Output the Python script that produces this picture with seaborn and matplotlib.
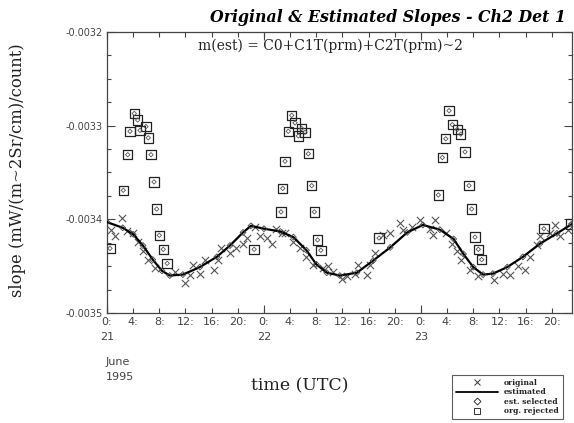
import matplotlib
matplotlib.use("Agg")
import matplotlib.pyplot as plt
import seaborn as sns
import pandas as pd
from matplotlib.lines import Line2D
from matplotlib.ticker import FixedLocator

# ---------------- data (hours since 21 June 1995 00:00 UTC) ----------------
est_hours = [0, 2.4, 4, 5.5, 7, 8.4, 9.6, 11.6, 14.2, 16.8, 18.8, 20.8, 22, 24,
             26.5, 28.5, 30.5, 32, 33.6, 35.6, 38.2, 40.7, 43.3, 45.9, 48.3,
             50.9, 53, 54.5, 56, 57.5, 59, 61.2, 63.6, 66.2, 68.8, 71.1]
est_slope = [-0.003403, -0.003409, -0.003416, -0.003428, -0.003443, -0.003455,
             -0.003460, -0.003459, -0.003451, -0.003440, -0.003428, -0.003414,
             -0.003407, -0.003410, -0.003413, -0.003419, -0.003433, -0.003448,
             -0.003457, -0.003460, -0.003457, -0.003444, -0.003430, -0.003414,
             -0.003406, -0.003411, -0.003421, -0.003437, -0.003451, -0.003459,
             -0.003458, -0.003451, -0.003440, -0.003426, -0.003415, -0.003405]

orig_hours = [0.6, 1.22, 2.24, 3.0, 4.0, 4.8, 5.55, 6.3, 7.34, 10.4, 11.9, 12.7,
              13.2, 14.2, 15.0, 16.3, 17.0, 17.5, 18.8, 19.8, 20.8, 21.4, 22.6,
              23.4, 24.4, 25.2, 25.9, 26.7, 27.2, 28.5, 29.5, 30.5, 31.5, 33.1,
              33.8, 34.6, 35.9, 36.7, 37.9, 38.4, 39.7, 40.2, 41.0, 42.2, 43.3,
              44.8, 45.3, 46.6, 47.9, 49.4, 49.9, 50.2, 51.9, 52.7, 53.5, 54.2,
              55.5, 56.8, 59.1, 60.6, 61.6, 62.9, 63.9, 64.7, 65.7, 66.2, 67.7,
              68.5, 69.3, 70.5]
orig_slope = [-0.003411, -0.003418, -0.003399, -0.003412, -0.003415, -0.003424,
              -0.003434, -0.003443, -0.003452, -0.003456, -0.003468, -0.003459,
              -0.003449, -0.003458, -0.003443, -0.003454, -0.003443, -0.003431,
              -0.003436, -0.003431, -0.003426, -0.003420, -0.003408, -0.003418,
              -0.003420, -0.003426, -0.003410, -0.003415, -0.003415, -0.003424,
              -0.003431, -0.003440, -0.003449, -0.003452, -0.003450, -0.003456,
              -0.003464, -0.003461, -0.003458, -0.003449, -0.003459, -0.003449,
              -0.003436, -0.003417, -0.003415, -0.003404, -0.003411, -0.003408,
              -0.003401, -0.003410, -0.003417, -0.003401, -0.003415, -0.003426,
              -0.003434, -0.003443, -0.003454, -0.003461, -0.003465, -0.003458,
              -0.003459, -0.003450, -0.003454, -0.003440, -0.003427, -0.003418,
              -0.003415, -0.003406, -0.003418, -0.003411]

rej_hours = [0.46, 2.49, 3.17, 3.52, 4.17, 4.69, 5.05, 5.96, 6.31, 6.73, 7.19,
             7.60, 8.0, 8.6, 9.2, 22.5,
             26.6, 26.87, 27.22, 27.72, 28.24, 28.75, 29.25, 29.77, 30.28, 30.78,
             31.3, 31.7, 32.2, 32.7, 41.6,
             50.66, 51.27, 51.8, 52.3, 52.8, 53.56, 54.08, 54.74, 55.35, 55.76,
             56.27, 56.78, 57.29, 66.8, 70.9]
rej_slope = [-0.003431, -0.003369, -0.003331, -0.003306, -0.003287, -0.003294,
             -0.003305, -0.003301, -0.003313, -0.003331, -0.003360, -0.003389,
             -0.003417, -0.003432, -0.003447, -0.003432,
             -0.003392, -0.003367, -0.003338, -0.003306, -0.003289, -0.003297,
             -0.003311, -0.003303, -0.003307, -0.003330, -0.003364, -0.003392,
             -0.003422, -0.003433, -0.003420,
             -0.003374, -0.003334, -0.003314, -0.003284, -0.003299, -0.003304,
             -0.003309, -0.003328, -0.003364, -0.003389, -0.003419, -0.003432,
             -0.003443, -0.003410, -0.003405]

xtick_hours = list(range(0, 72, 4))
xtick_labels = ["0:\n21", "4:", "8:", "12:", "16:", "20:",
                "0:\n22", "4:", "8:", "12:", "16:", "20:",
                "0:\n23", "4:", "8:", "12:", "16:", "20:"]
day_ticks = [0, 24, 48]
ytick_values = [-0.0035, -0.0034, -0.0033, -0.0032]
ytick_labels = ["-0.0035", "-0.0034", "-0.0033", "-0.0032"]
ytick_minor = [-0.0035 + i * 0.000025 for i in range(13)]

est_df = pd.DataFrame({"hour": est_hours, "slope": est_slope})
orig_df = pd.DataFrame({"hour": orig_hours, "slope": orig_slope})
rej_df = pd.DataFrame({"hour": rej_hours, "slope": rej_slope})

# ---------------- figure ----------------
sns.set_style("ticks")
W, H = 574, 423
fig = plt.figure(figsize=(W / 100, H / 100), dpi=100)
ax = fig.add_axes([107 / W, 1 - 313 / H, (572 - 107) / W, (313 - 32) / H])

ink = "#222222"
tickc = "#444444"
sns.lineplot(data=est_df, x="hour", y="slope", ax=ax, color="black",
             linewidth=1.6, sort=False, zorder=3)
sns.scatterplot(data=est_df, x="hour", y="slope", ax=ax, marker="D", s=9,
                facecolor="none", edgecolor="#444444", linewidth=0.6, zorder=4)
sns.scatterplot(data=orig_df, x="hour", y="slope", ax=ax, marker="x", s=28,
                color="#555555", linewidth=0.8, zorder=2)
sns.scatterplot(data=rej_df, x="hour", y="slope", ax=ax, marker="s", s=46,
                facecolor="none", edgecolor=ink, linewidth=0.9, zorder=5)
sns.scatterplot(data=rej_df, x="hour", y="slope", ax=ax, marker="D", s=5,
                facecolor="none", edgecolor="#555555", linewidth=0.6, zorder=5)

ax.set_xlim(0, 71.1)
ax.set_ylim(-0.0035, -0.0032)

ax.xaxis.set_major_locator(FixedLocator(xtick_hours))
ax.set_xticklabels(xtick_labels, fontsize=8, color=tickc, linespacing=1.65,
                   family="DejaVu Sans")
ax.xaxis.set_minor_locator(FixedLocator(day_ticks))
ax.xaxis.remove_overlapping_locs = False
ax.yaxis.set_major_locator(FixedLocator(ytick_values))
ax.set_yticklabels(ytick_labels, fontsize=7, color=tickc, family="DejaVu Sans")
ax.yaxis.set_minor_locator(FixedLocator(ytick_minor))

ax.tick_params(axis="both", which="major", direction="in", length=3.5, width=0.8,
               color="#444444", top=True, right=True, pad=3)
ax.tick_params(axis="y", which="major", length=6)
ax.tick_params(axis="both", which="minor", direction="in", length=3, width=0.8,
               color="#444444", top=True, right=True)
ax.tick_params(axis="x", which="minor", length=6)
for s in ax.spines.values():
    s.set_color("#444444")
    s.set_linewidth(0.9)

ax.set_xlabel("")
ax.set_ylabel("")

fig.text(388 / W, 1 - 18 / H, "Original & Estimated Slopes - Ch2 Det 1",
         ha="center", va="center", fontsize=11.3, style="italic", weight="bold",
         family="DejaVu Serif", color="black")
fig.text(330 / W, 1 - 46 / H, "m(est) = C0+C1T(prm)+C2T(prm)~2",
         ha="center", va="center", fontsize=10, family="DejaVu Serif", color=ink)
fig.text(18 / W, 1 - 170 / H, "slope (mW/(m~2Sr/cm)/count)", rotation=90,
         ha="center", va="center", fontsize=11.8, family="DejaVu Serif", color=ink)
fig.text(300 / W, 1 - 386 / H, "time (UTC)", ha="center", va="center",
         fontsize=12.5, family="DejaVu Serif", color=ink)
fig.text(106 / W, 1 - 357 / H, "June\n1995", ha="left", va="top", fontsize=8,
         color=tickc, linespacing=1.6, family="DejaVu Sans")

handles = [
    Line2D([], [], linestyle="none", marker="x", color="#333333", markersize=4,
           markeredgewidth=0.7),
    Line2D([], [], color="black", linewidth=1.3),
    Line2D([], [], linestyle="none", marker="D", markerfacecolor="none",
           markeredgecolor="#333333", markersize=3.5, markeredgewidth=0.7),
    Line2D([], [], linestyle="none", marker="s", markerfacecolor="none",
           markeredgecolor="#333333", markersize=5, markeredgewidth=0.7),
]
labels = ["original", "estimated", "est. selected", "org. rejected"]
leg = fig.legend(handles, labels, loc="upper left",
                 bbox_to_anchor=(452 / W, 1 - 375 / H),
                 prop={"family": "DejaVu Serif", "size": 5.5, "weight": "bold"},
                 frameon=True, fancybox=False, edgecolor="#333333",
                 borderpad=0.5, labelspacing=0.2, handlelength=5.5,
                 handletextpad=0.8, borderaxespad=0)
leg.get_frame().set_linewidth(0.8)

fig.savefig("out.png", dpi=100)
